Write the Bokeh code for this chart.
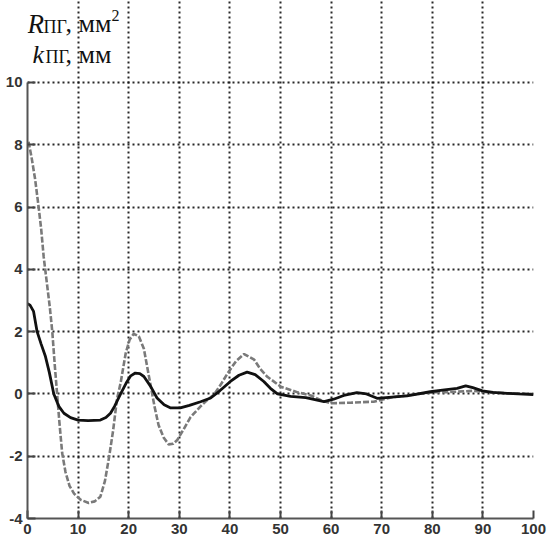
from bokeh.plotting import figure
from bokeh.models import Range1d, FixedTicker, PrintfTickFormatter
from bokeh.core.properties import value
from bokeh.embed import file_html
from bokeh.resources import INLINE

# Distance values (x) and the two response curves
k_x = [0, 0.5, 1.2, 1.9, 2.7, 3.55, 4.3, 5.2, 6.2, 7.2, 8.5, 10, 12, 14.4, 15.5,
       16.4, 17.2, 18.4, 19.5, 20.4, 21.3, 22.2, 23, 24.3, 25.6, 27, 28.3, 30.2,
       32, 34.2, 36.2, 38, 40.1, 41.8, 43.4, 45, 46.7, 48, 49.4, 52, 55, 58.6,
       60.5, 62.5, 65.1, 67, 69.1, 72, 75, 79.6, 82, 84.9, 86.6, 88, 89.9, 92,
       94.8, 97, 100]
k_y = [2.9, 2.85, 2.65, 2.0, 1.6, 1.2, 0.7, 0.0, -0.4, -0.62, -0.76, -0.84, -0.86,
       -0.84, -0.76, -0.62, -0.4, 0.0, 0.35, 0.58, 0.67, 0.65, 0.56, 0.25, -0.13,
       -0.35, -0.45, -0.45, -0.37, -0.25, -0.13, 0.1, 0.4, 0.6, 0.7, 0.62, 0.4,
       0.18, 0.0, -0.08, -0.12, -0.25, -0.17, -0.05, 0.04, 0.0, -0.14, -0.1, -0.06,
       0.07, 0.12, 0.18, 0.26, 0.2, 0.1, 0.05, 0.02, 0.0, -0.02]

r_x = [0.2, 0.8, 1.5, 2.2, 2.7, 3.2, 3.8, 4.4, 4.9, 5.4, 5.85, 6.3, 6.85, 7.5, 8.3,
       9.2, 10.5, 12.1, 13.3, 14.4, 15.3, 16.1, 16.9, 17.7, 18.4, 19.4, 20.2, 21,
       22, 23, 24.3, 25.1, 25.9, 26.9, 27.9, 28.8, 29.6, 30.8, 32.2, 34.2, 35.5,
       36.8, 38.2, 39.5, 41.2, 42.8, 44.8, 46, 47.4, 50.1, 53.4, 56, 58, 60, 64,
       68.4, 71.6, 75, 79.6, 83.5, 88, 91.4, 95, 100]
r_y = [8.1, 7.6, 6.9, 6.0, 5.3, 4.4, 3.6, 2.8, 2.0, 0.9, 0.0, -0.9, -1.9, -2.5,
       -2.95, -3.2, -3.4, -3.5, -3.45, -3.3, -2.8, -2.05, -1.2, -0.15, 0.35, 1.3,
       1.75, 1.93, 1.85, 1.45, 0.3, -0.4, -1.0, -1.4, -1.62, -1.6, -1.48, -1.15,
       -0.75, -0.4, -0.2, -0.03, 0.3, 0.65, 1.05, 1.28, 1.1, 0.8, 0.55, 0.23, 0.05,
       -0.05, -0.2, -0.3, -0.28, -0.25, -0.12, -0.05, 0.05, 0.06, 0.1, 0.05, 0.02,
       0.0]

x_ticks = [0, 10, 20, 30, 40, 50, 60, 70, 80, 90, 100]
y_ticks = [-4, -2, 0, 2, 4, 6, 8, 10]

# The frame reaches up to the top of the canvas so the caption can sit in it;
# axis and grid are bounded to the -4..10 band.
p = figure(width=547, height=544, output_backend="svg", toolbar_location=None,
           x_range=Range1d(0, 100), y_range=Range1d(-4, 12.633),
           min_border_left=27, min_border_right=14, min_border_top=0,
           min_border_bottom=26)
p.outline_line_color = None
p.background_fill_color = "white"
p.border_fill_color = "white"

for ax, ticks in ((p.xaxis, x_ticks), (p.yaxis, y_ticks)):
    ax.ticker = FixedTicker(ticks=ticks)
    ax.formatter = PrintfTickFormatter(format="%d")
    ax.minor_tick_line_color = None
    ax.major_tick_in = 8
    ax.major_tick_out = 0
    ax.major_tick_line_color = "#444444"
    ax.major_tick_line_width = 2
    ax.axis_line_color = "#555555"
    ax.axis_line_width = 2
    ax.major_label_text_font = "Liberation Sans"
    ax.major_label_text_font_style = "bold"
    ax.major_label_text_font_size = "15px"
    ax.major_label_text_color = "#333333"
    ax.major_label_standoff = 5
p.yaxis.bounds = (-4, 10)
p.xgrid.bounds = (-4, 10)

for g in (p.xgrid, p.ygrid):
    g.grid_line_color = "#111111"
    g.grid_line_dash = "2 3"
    g.grid_line_width = 2
    g.grid_line_alpha = 0.9

p.line(r_x, r_y, line_color="#7a7a7a", line_width=2.6, line_dash="6 2")
p.line(k_x, k_y, line_color="#111111", line_width=2.8)

# Two-line axis caption with subscripts and a superscript
serif = value("Liberation Serif")
caption = [
    ("R", 0.0, 11.89, "27px", "italic"),
    ("ПГ", 3.16, 11.78, "18px", "normal"),
    (", мм", 7.5, 11.89, "26px", "normal"),
    ("2", 16.6, 12.16, "16px", "normal"),
    ("k", 0.99, 10.91, "26px", "italic"),
    ("ПГ", 3.56, 10.82, "18px", "normal"),
    (", мм", 7.5, 10.91, "26px", "normal"),
]
for txt, lx, ly, size, style in caption:
    p.text(x=[lx], y=[ly], text=[txt], text_font=serif,
           text_font_size=value(size), text_font_style=style,
           text_color="#111111", text_baseline="alphabetic")

open("out.html", "w").write(file_html(p, INLINE))
